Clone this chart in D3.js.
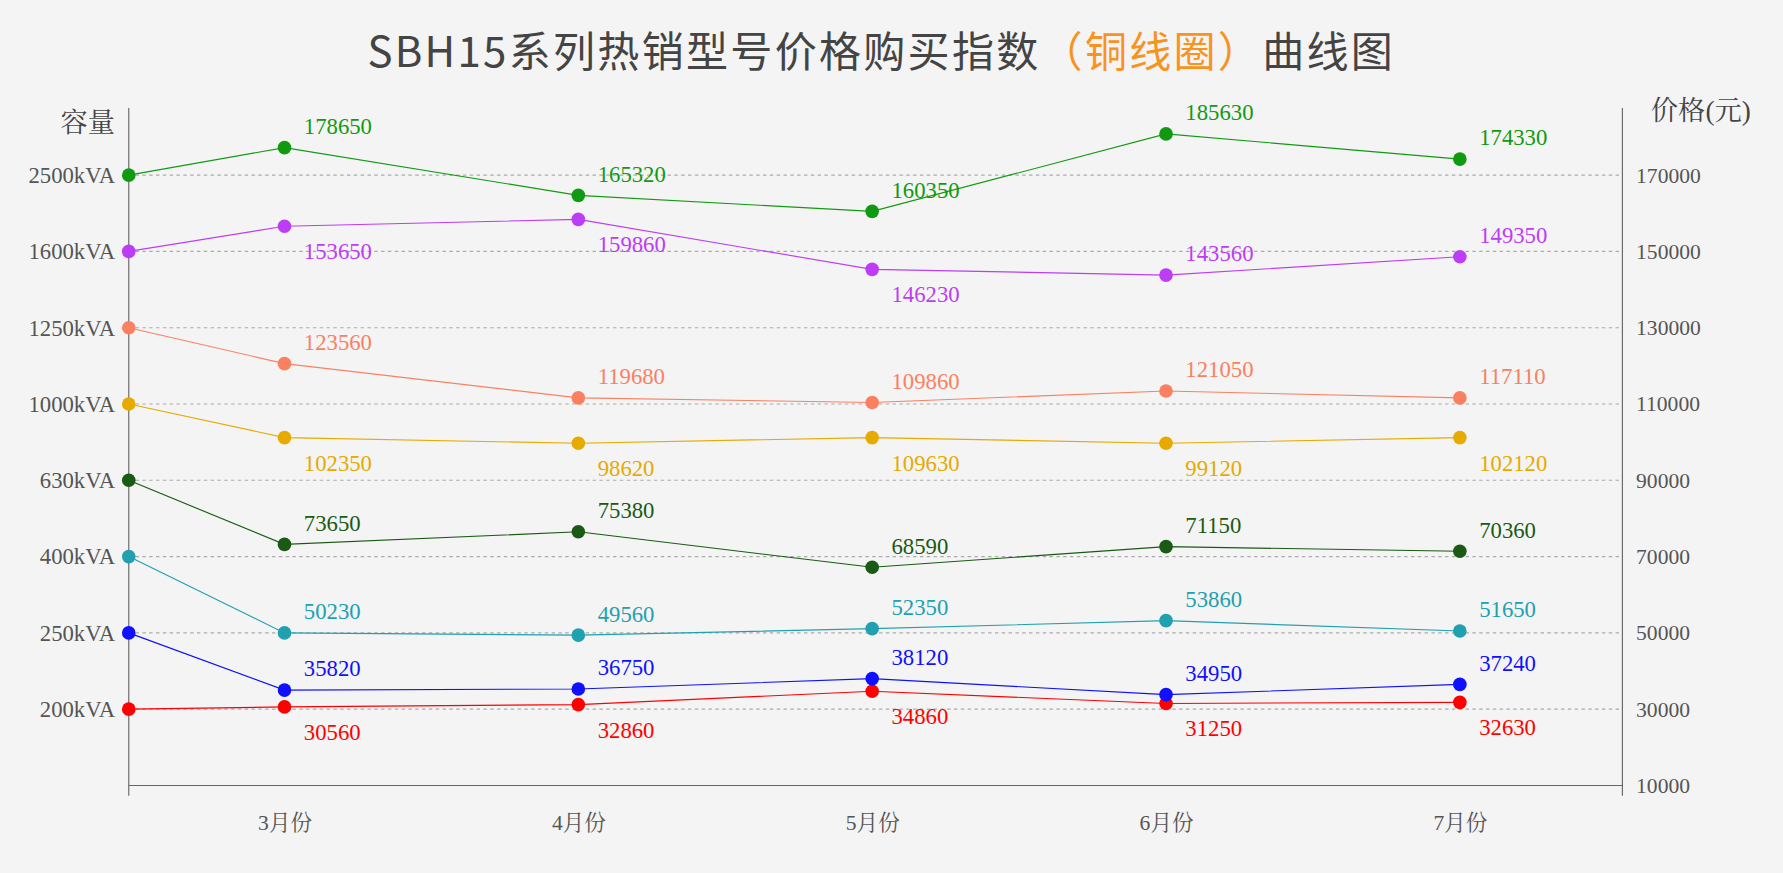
<!DOCTYPE html><html><head><meta charset="utf-8"><script src="https://cdn.jsdelivr.net/npm/d3@7"></script>
<style>html,body{margin:0;background:#f4f4f4}svg{display:block}</style></head><body>
<script>
const months=["3月份","4月份","5月份","6月份","7月份"];
const capacities=["200kVA","250kVA","400kVA","630kVA","1000kVA","1250kVA","1600kVA","2500kVA"];
const capacityLevels=[30000,50000,70000,90000,110000,130000,150000,170000];
const priceTicks=[10000,30000,50000,70000,90000,110000,130000,150000,170000];
const colors=["#ff0000","#1010ff","#21a0b0","#1a5a14","#e6aa00","#fa8062","#bd3cf5","#119a11"];
// start value (at axis) then 5 months, plotted values
const plotted=[
 [30000,30600,31200,34700,31500,31800],
 [50000,35000,35300,38000,33800,36500],
 [70000,50000,49400,51100,53200,50500],
 [90000,73200,76500,67200,72600,71400],
 [110000,101200,99700,101200,99700,101200],
 [130000,120600,111600,110400,113400,111600],
 [150000,156600,158400,145300,143800,148600],
 [170000,177200,164700,160500,180800,174200]];
const labels=[
 [30560,32860,34860,31250,32630],
 [35820,36750,38120,34950,37240],
 [50230,49560,52350,53860,51650],
 [73650,75380,68590,71150,70360],
 [102350,98620,109630,99120,102120],
 [123560,119680,109860,121050,117110],
 [153650,159860,146230,143560,149350],
 [178650,165320,160350,185630,174330]];
const below=[[1,1,1,1,1],[0,0,0,0,0],[0,0,0,0,0],[0,0,0,0,0],[1,1,1,1,1],[0,0,0,0,0],[1,1,1,0,0],[0,0,0,0,0]];

const W=1568,H=768,L=113,R=1427;
const svg=d3.select("body").append("svg").attr("width",1783).attr("height",873).attr("viewBox",`0 0 ${W} ${H}`);
svg.append("rect").attr("width",W).attr("height",H).attr("fill","#f4f4f4");
const x=d3.scalePoint().domain(months).range([250,1284]);
const y=d3.scaleLinear().domain([10000,187600]).range([691,95]);
const serif="'Liberation Serif','Noto Serif CJK SC',serif";
const sans="'Noto Sans CJK SC','Noto Sans',sans-serif";
// title
const t=svg.append("text").attr("x",775).attr("y",59).attr("text-anchor","middle")
 .attr("font-family",sans).attr("font-size",37).attr("letter-spacing",2).attr("fill","#444");
t.append("tspan").text("SBH15系列热销型号价格购买指数");
t.append("tspan").attr("fill","#f7931e").text("（铜线圈）");
t.append("tspan").text("曲线图");
// grid
svg.append("g").selectAll("line").data(capacityLevels).join("line")
 .attr("x1",L).attr("x2",R).attr("y1",d=>y(d)).attr("y2",d=>y(d))
 .attr("stroke","#aaa").attr("stroke-dasharray","3,3");
// left axis
const la=svg.append("g").attr("transform",`translate(${L},0)`)
 .call(d3.axisLeft(y).tickValues(capacityLevels).tickFormat((d,i)=>capacities[i]).tickSize(0).tickPadding(12));
la.select(".domain").attr("d","M0,95V700");
// right axis
const ra=svg.append("g").attr("transform",`translate(${R},0)`)
 .call(d3.axisRight(y).tickValues(priceTicks).tickFormat(d3.format("d")).tickSize(0).tickPadding(12));
ra.select(".domain").attr("d","M0,95V700");
// bottom axis
const ba=svg.append("g").attr("transform","translate(0,691)")
 .call(d3.axisBottom(x).tickSize(0).tickPadding(26));
ba.select(".domain").attr("d",`M${L},0H${R}`);
[la,ra,ba].forEach(g=>{g.selectAll(".domain").attr("stroke","#666");
 g.selectAll("text").attr("font-family",serif).attr("fill","#555").attr("font-size",20);});
ra.selectAll("text").attr("font-size",19);
ba.selectAll("text").attr("font-size",19);
svg.append("text").attr("x",77).attr("y",116).attr("text-anchor","middle").attr("font-family",serif).attr("font-size",24).attr("fill","#444").text("容量");
svg.append("text").attr("x",1496).attr("y",106).attr("text-anchor","middle").attr("font-family",serif).attr("font-size",24).attr("fill","#444").text("价格(元)");
// series
const xs=i=>i===0?L:x(months[i-1]);
const line=d3.line().x((d,i)=>xs(i)).y(d=>y(d));
plotted.forEach((s,k)=>{
 const g=svg.append("g");
 g.append("path").attr("d",line(s)).attr("fill","none").attr("stroke",colors[k]).attr("stroke-width",1);
 g.selectAll("circle").data(s).join("circle").attr("cx",(d,i)=>xs(i)).attr("cy",d=>y(d)).attr("r",6).attr("fill",colors[k]);
 g.selectAll("text").data(labels[k]).join("text")
  .attr("x",(d,i)=>x(months[i])+17).attr("y",(d,i)=>y(s[i+1])+(below[k][i]?29:-12))
  .attr("font-family",serif).attr("font-size",20).attr("fill",colors[k]).text(d=>d);
});
</script></body></html>
